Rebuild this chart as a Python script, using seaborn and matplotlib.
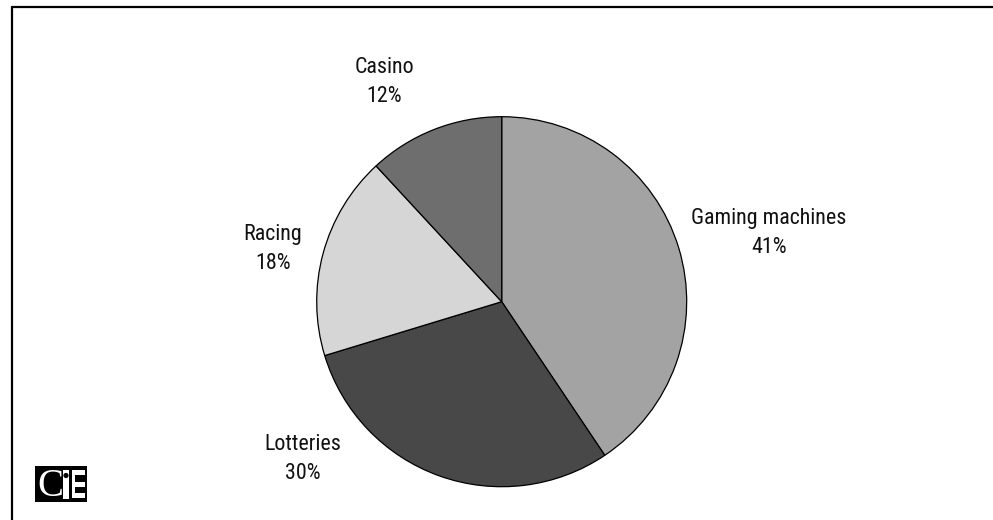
import matplotlib
matplotlib.use("Agg")
import matplotlib.pyplot as plt
from matplotlib import font_manager
from matplotlib.font_manager import FontProperties
from matplotlib.patches import Rectangle, Circle
from matplotlib.lines import Line2D
import seaborn as sns

categories = ["Gaming machines", "Lotteries", "Racing", "Casino"]
shares = [41, 30, 18, 12]
pct_labels = ["41%", "30%", "18%", "12%"]
colors = ["#a3a3a3", "#484848", "#d6d6d6", "#6e6e6e"]

sns.set_theme(style="white")
plt.rcParams["font.family"] = ["Liberation Sans", "DejaVu Sans"]

# look for a narrow / condensed sans face
cands = []
for f in font_manager.fontManager.ttflist:
    nm = f.name.lower()
    st = str(f.stretch).lower()
    if ("narrow" in nm or "condensed" in nm or "condensed" in st or st in ("semi-condensed",)) \
            and "serif" not in nm and "mono" not in nm and "bold" not in str(f.weight).lower() \
            and f.style == "normal" and (f.weight in (400, "normal", "regular")):
        cands.append(f)
pref = ["liberation sans narrow", "arial narrow", "roboto condensed", "open sans condensed",
        "noto sans", "dejavu sans", "lato", "inter"]
chosen = None
for p in pref:
    for f in cands:
        if f.name.lower().startswith(p):
            chosen = f
            break
    if chosen:
        break
if chosen is None and cands:
    chosen = cands[0]
if chosen is not None:
    fp = FontProperties(fname=chosen.fname)
    narrow = True
else:
    fp = FontProperties(family=["Liberation Sans", "DejaVu Sans"])
    narrow = False

W, H, DPI = 993, 520, 100
fig = plt.figure(figsize=(W / DPI, H / DPI), dpi=DPI)
fig.patch.set_facecolor("white")

cx, cy, R = 501.7, 301.7, 185.0
ax = fig.add_axes([0, 0, 1, 1])
ax.pie(shares, colors=colors, startangle=90, counterclock=False,
       wedgeprops=dict(edgecolor="black", linewidth=0.9))
ax.set_aspect("auto")
ax.set_xlim((0 - cx) / R, (W - cx) / R)
ax.set_ylim(-(H - cy) / R, cy / R)
ax.axis("off")

label_pos = {
    "Gaming machines": (1.445, 0.373),
    "Lotteries": (-1.074, -0.850),
    "Racing": (-1.236, 0.285),
    "Casino": (-0.634, 1.188),
}
fs = 15.8 if narrow else 14.5
fp.set_size(fs)
for cat, pct in zip(categories, pct_labels):
    x, y = label_pos[cat]
    ax.text(x, y, f"{cat}\n{pct}", ha="center", va="center", fontproperties=fp,
            linespacing=1.5 if narrow else 1.75, color="#111111")

# frame lines (top and left)
fig.add_artist(Line2D([11.5 / W, 1], [1 - 7 / H, 1 - 7 / H], transform=fig.transFigure,
                      color="black", linewidth=1.6))
fig.add_artist(Line2D([11.5 / W, 11.5 / W], [0, 1 - 7 / H], transform=fig.transFigure,
                      color="black", linewidth=1.6))

# logo overlay in pixel coords
lx = fig.add_axes([0, 0, 1, 1], facecolor="none")
lx.set_xlim(0, W)
lx.set_ylim(H, 0)
lx.axis("off")
lx.add_patch(Rectangle((35, 466), 52, 36, facecolor="black", edgecolor="none"))
lx.text(50, 486, "C", color="white", fontsize=28, ha="center", va="center",
        family=["Liberation Serif", "DejaVu Serif"])
lx.add_patch(Rectangle((63, 470), 6, 29, facecolor="white", edgecolor="none"))
lx.add_patch(Circle((66, 475.5), 2.6, facecolor="black", edgecolor="none"))
lx.add_patch(Rectangle((71.5, 469.5), 3, 28, facecolor="white", edgecolor="none"))
for yy, hh in [(469.5, 5), (482, 4.5), (493, 4.5)]:
    lx.add_patch(Rectangle((71.5, yy), 13.5, hh, facecolor="white", edgecolor="none"))

fig.savefig("out.png", dpi=DPI)
